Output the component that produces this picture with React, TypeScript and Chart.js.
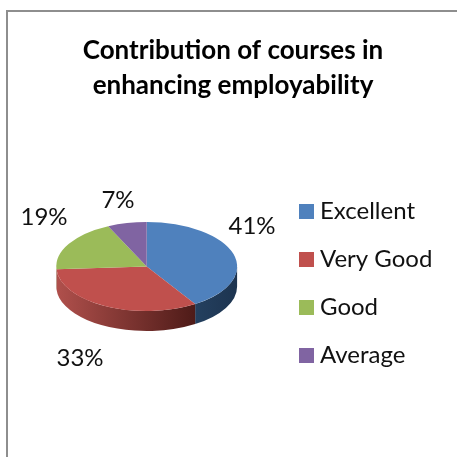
import React, { useEffect, useRef } from "react";
import { Chart, registerables } from "chart.js";

Chart.register(...registerables);

const categories = ["Excellent", "Very Good", "Good", "Average"];
const shares = [41, 33, 19, 7];
const topColors = ["#4F81BD", "#C0504D", "#9BBB59", "#8064A2"];
const wallLight = ["#24405F", "#B0504C", "#7A9444", "#5E4A78"];
const wallDark = ["#1D3450", "#4E1B18", "#5C7034", "#4A3A60"];
const titleLines = ["Contribution of courses in", "enhancing employability"];

const FONT = "Lato";
const TEXT = "#111111";

const PIE = { cx: 146.7, cy: 266.5, rx: 90.4, ry: 44.5, depth: 20 };
const LABEL_POS = [
  { x: 252, y: 226 },
  { x: 80, y: 358 },
  { x: 44, y: 217 },
  { x: 118, y: 200 },
];
const LEGEND = { x: 299, box: 15, textX: 320, rows: [211.5, 259.5, 307.5, 355.5] };

const frame = {
  id: "frame",
  beforeDraw(chart: any) {
    const { ctx, width, height } = chart;
    ctx.save();
    ctx.fillStyle = "#ffffff";
    ctx.fillRect(0, 0, width, height);
    ctx.strokeStyle = "#8E8E8E";
    ctx.lineWidth = 2;
    ctx.beginPath();
    ctx.moveTo(7, height);
    ctx.lineTo(7, 11);
    ctx.lineTo(width, 11);
    ctx.stroke();
    ctx.restore();
  },
};

const pie3d = {
  id: "pie3d",
  beforeDatasetsDraw(chart: any) {
    const { ctx } = chart;
    const arcs = chart.getDatasetMeta(0).data;
    const { cx, cy, rx, ry, depth } = PIE;
    arcs.forEach((arc: any, i: number) => {
      const a0 = Math.max(arc.startAngle, 0);
      const a1 = Math.min(arc.endAngle, Math.PI);
      if (a1 <= a0) return;
      const xa = cx + rx * Math.cos(a0);
      const xb = cx + rx * Math.cos(a1);
      const g = ctx.createLinearGradient(xb, 0, xa, 0);
      g.addColorStop(0, wallLight[i]);
      g.addColorStop(1, wallDark[i]);
      ctx.save();
      ctx.fillStyle = g;
      ctx.beginPath();
      ctx.ellipse(cx, cy, rx, ry, 0, a0, a1, false);
      ctx.ellipse(cx, cy + depth, rx, ry, 0, a1, a0, true);
      ctx.closePath();
      ctx.fill();
      ctx.restore();
    });
    const first = arcs[0];
    ctx.save();
    ctx.translate(cx, cy);
    ctx.scale(1, ry / rx);
    ctx.translate(-first.x, -first.y);
  },
  afterDatasetsDraw(chart: any) {
    chart.ctx.restore();
  },
};

const annotations = {
  id: "annotations",
  afterDraw(chart: any) {
    const { ctx } = chart;
    const values = chart.data.datasets[0].data as number[];
    ctx.save();
    ctx.font = `24px ${FONT}`;
    ctx.fillStyle = TEXT;
    ctx.textBaseline = "middle";
    ctx.textAlign = "center";
    values.forEach((v, i) => ctx.fillText(`${v}%`, LABEL_POS[i].x, LABEL_POS[i].y));
    ctx.textAlign = "left";
    (chart.data.labels as string[]).forEach((label, i) => {
      const y = LEGEND.rows[i];
      ctx.fillStyle = chart.data.datasets[0].backgroundColor[i];
      ctx.fillRect(LEGEND.x, y - LEGEND.box / 2, LEGEND.box, LEGEND.box);
      ctx.fillStyle = TEXT;
      ctx.fillText(label, LEGEND.textX, y);
    });
    ctx.restore();
  },
};

export default function App() {
  const ref = useRef<HTMLCanvasElement>(null);
  useEffect(() => {
    const chart = new Chart(ref.current!, {
      type: "pie",
      data: {
        labels: categories,
        datasets: [
          {
            data: shares,
            backgroundColor: topColors,
            borderWidth: 0,
            radius: PIE.rx,
            clip: false,
          } as any,
        ],
      },
      options: {
        responsive: false,
        animation: false,
        devicePixelRatio: 1,
        layout: { padding: { left: 9, top: 0, right: 0, bottom: 0 } },
        plugins: {
          legend: { display: false },
          tooltip: { enabled: false },
          title: {
            display: true,
            text: titleLines,
            color: "#000000",
            font: { family: FONT, size: 26, weight: "bold", lineHeight: 1.35 },
            padding: { top: 33, bottom: 0 },
          },
        },
      },
      plugins: [frame, pie3d, annotations],
    });
    return () => chart.destroy();
  }, []);
  return (
    <canvas
      ref={ref}
      width={457}
      height={457}
      style={{ position: "fixed", left: 0, top: 0, display: "block", width: 457, height: 457 }}
    />
  );
}
